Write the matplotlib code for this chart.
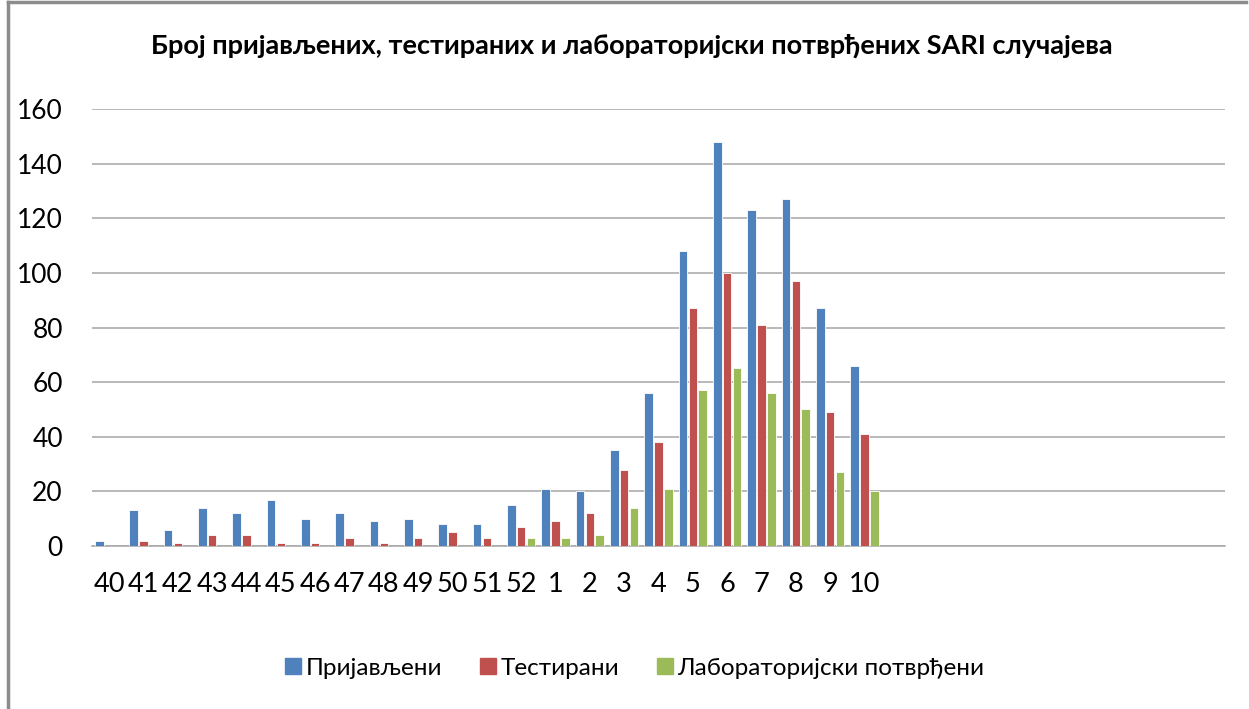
import matplotlib
matplotlib.use("Agg")
import matplotlib.pyplot as plt
import numpy as np
from matplotlib.lines import Line2D

weeks = ["40", "41", "42", "43", "44", "45", "46", "47", "48", "49", "50", "51", "52",
         "1", "2", "3", "4", "5", "6", "7", "8", "9", "10",
         "", "", "", "", "", "", "", "", "", ""]
reported = [2, 13, 6, 14, 12, 17, 10, 12, 9, 10, 8, 8, 15, 21, 20, 35, 56, 108, 148, 123, 127, 87, 66]
tested = [0, 2, 1, 4, 4, 1, 1, 3, 1, 3, 5, 3, 7, 9, 12, 28, 38, 87, 100, 81, 97, 49, 41]
confirmed = [0, 0, 0, 0, 0, 0, 0, 0, 0, 0, 0, 0, 3, 3, 4, 14, 21, 57, 65, 56, 50, 27, 20]
series_names = ["Пријављени", "Тестирани", "Лабораторијски потврђени"]
colors = ["#4F81BD", "#C0504D", "#9BBB59"]
yticks = [0, 20, 40, 60, 80, 100, 120, 140, 160]

plt.rcParams['font.family'] = ['Lato', 'DejaVu Sans']

W, H = 1249, 709
fig = plt.figure(figsize=(W / 100, H / 100), dpi=100)
ax = fig.add_axes([92 / W, 1 - 546 / H, (1225 - 92) / W, (546 - 109) / H])

x = np.arange(len(weeks))
n = len(reported)
bw = 0.25
step = 0.29
for i, (vals, c) in enumerate(zip([reported, tested, confirmed], colors)):
    ax.bar(x[:n] + (i - 1) * step, vals, width=bw, color=c, edgecolor="white",
           linewidth=0.6, label=series_names[i], zorder=3)

ax.set_xlim(-0.5, len(weeks) - 0.5)
ax.set_ylim(0, 160)
ax.set_yticks(yticks)
ax.set_yticklabels([str(v) for v in yticks], fontsize=19)
ax.set_xticks(x)
ax.set_xticklabels(weeks, fontsize=19.5)
ax.tick_params(axis='y', length=0, pad=21)
ax.tick_params(axis='x', length=0, pad=19)
ax.grid(axis='y', color="#A6A6A6", linewidth=1.1, zorder=0)
for s in ["top", "right", "left"]:
    ax.spines[s].set_visible(False)
ax.spines["bottom"].set_color("#A6A6A6")
ax.spines["bottom"].set_linewidth(1.1)

fig.text(632 / W, 1 - 46 / H, "Број пријављених, тестираних и лабораторијски потврђених SARI случајева",
         ha="center", va="center", fontsize=19.5, fontweight="bold")

handles = [Line2D([0], [0], marker='s', linestyle='none', markersize=11,
                  markerfacecolor=c, markeredgecolor=c) for c in colors]
fig.legend(handles, series_names, loc="center", bbox_to_anchor=(634 / W, 1 - 668 / H),
           ncol=3, frameon=False, fontsize=17.5, handletextpad=0.1, columnspacing=1.5,
           handlelength=0.8)

# figure frame (left and top edges)
fig.add_artist(Line2D([7.5 / W, 7.5 / W], [0, 1 - 1.5 / H], color="#8C8C8C", linewidth=2.5,
                      transform=fig.transFigure))
fig.add_artist(Line2D([7.5 / W, 1246 / W], [1 - 1.5 / H, 1 - 1.5 / H], color="#8C8C8C", linewidth=2.5,
                      transform=fig.transFigure))

fig.savefig("out.png", dpi=100, facecolor="white")
